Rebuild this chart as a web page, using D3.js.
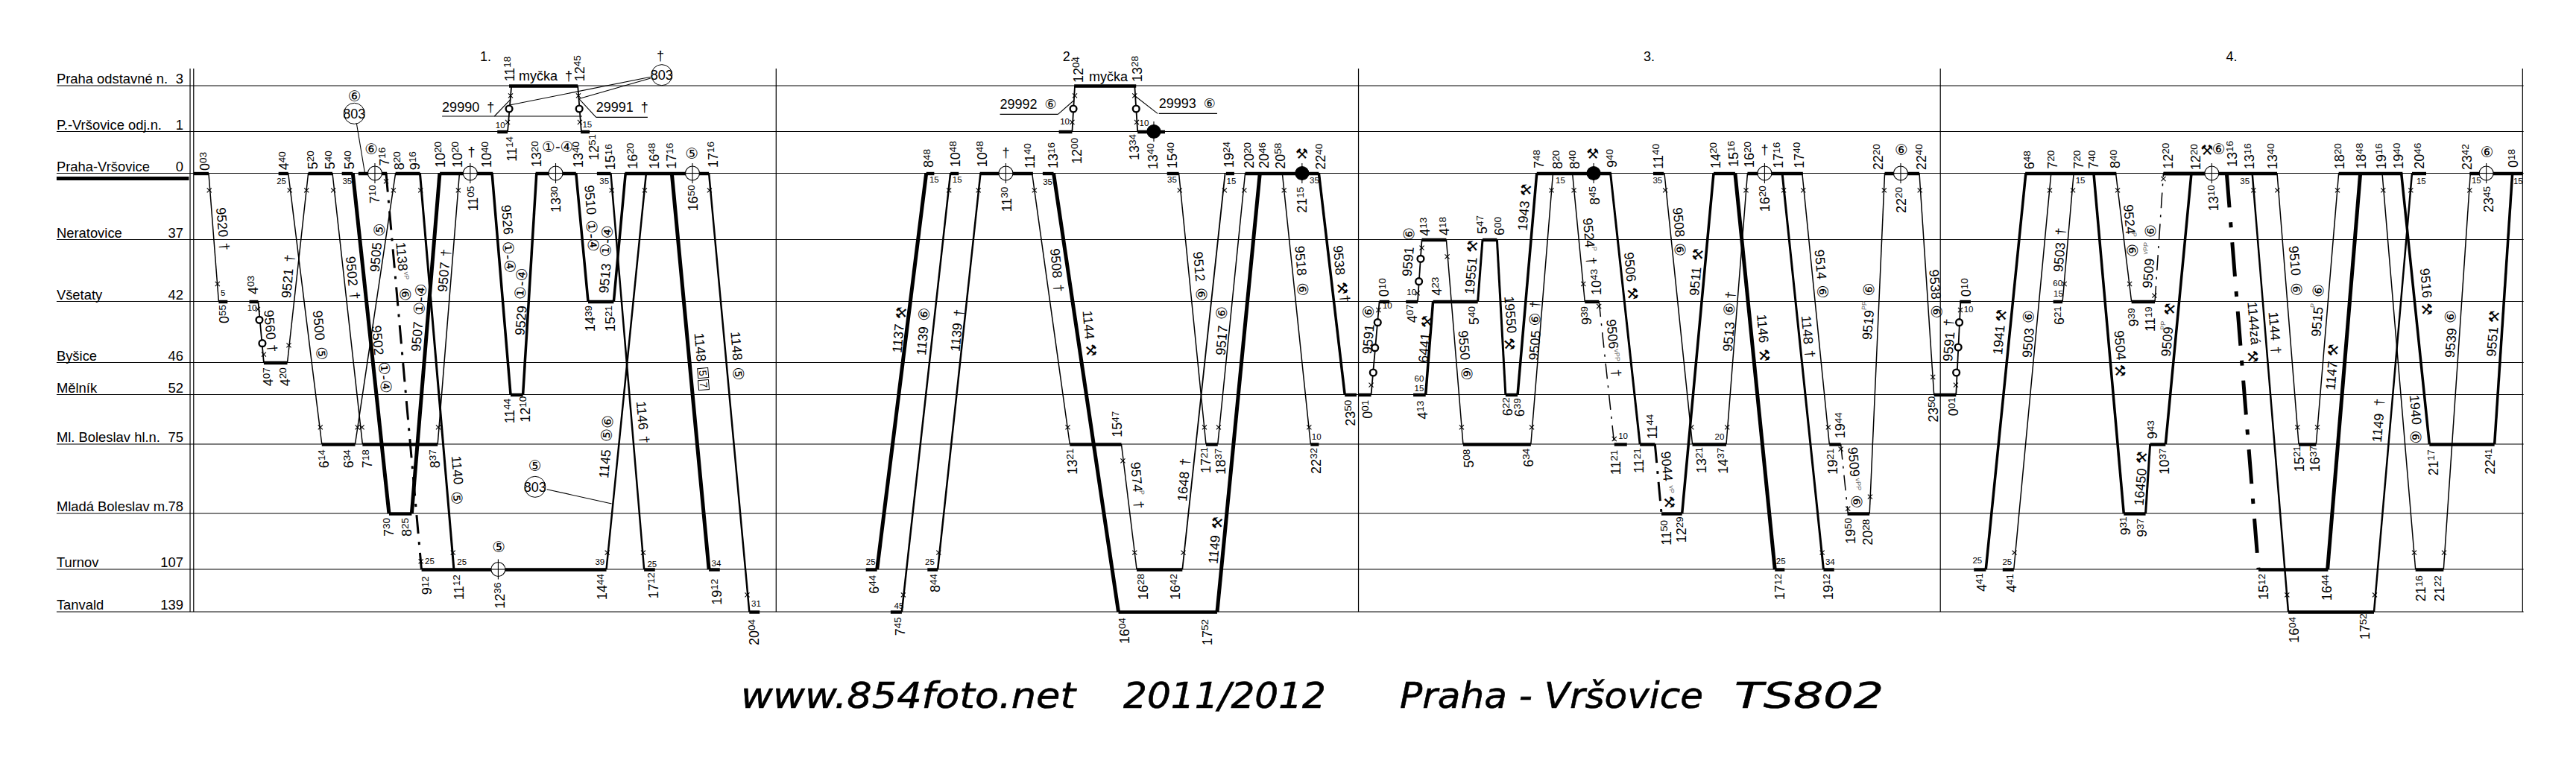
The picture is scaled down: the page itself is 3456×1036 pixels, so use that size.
<!DOCTYPE html>
<html><head><meta charset="utf-8">
<script src="https://cdn.jsdelivr.net/npm/d3@7/dist/d3.min.js"></script>
<style>html,body{margin:0;padding:0;background:#fff}svg{display:block}
text{font-family:"Liberation Sans","DejaVu Sans",sans-serif;fill:#000}</style></head><body>
<script>
// ---- stations (km, name) ----
const stationKeys=['O','V','P','N','S','B','M','L','D','T','A'];
const stationNames=['Praha odstavné n.','P.-Vršovice odj.n.','Praha-Vršovice','Neratovice','Všetaty','Byšice','Mělník','Ml. Boleslav hl.n.','Mladá Boleslav m.','Turnov','Tanvald'];
const stationKm=[3,1,0,37,42,46,52,75,78,107,139];
const stationRows=[115,176.5,232.5,321.5,404.5,486.5,529.5,596,689,764,821];
const dayLabels=[['B','u',130,108,'1.'],['C','u',590,108,'2.'],['D','u',1043,108,'3.'],['F','u',132,108,'4.']];
const titleParts=[['www.854foto.net',994,1443],['2011/2012',1507,1779],['Praha - Vršovice',1878,2285],['TS802',2327,2527]];
// sheet sections: start, width, read extent, upper and lower band origin
const sections=[['A',0,620,1568,40,440],['B',600,620,1568,40,460],['C',1200,620,1568,40,460],['D',1800,620,1568,40,460],['E',2400,560,1568,40,460],['F',2950,506,1518,40,460]];
const dividers=[['A',645],['A',657],['B',1116],['D',57],['E',569],['F',1303]];

// ---- train runs: section, from station, position, to station, position, class, dashed ----
const trainLines=[
['A','P',708,'S',742,1.5],['A','S',876,'B',895,1.8],['A','B',975,'P',1046,1.5],['A','P',978,'L',1092,1.5],['A','P',1128,'L',1230,1.5],
['A','P',1197,'D',1320,5],['A','P',1342,'L',1205,1.5],['A','L',1485,'P',1559,1.5],['A','P',1425,'T',1540,3],['A','D',1397,'P',1492,5],['A','P',1310,'T',1430,3,1],
['B','V',205,'O',218,1.8],['B','V',455,'O',443,1.8],['B','P',152,'M',215,3.5],['B','M',257,'P',303,3.5],['B','P',437,'S',478,3.5],['B','S',565,'P',605,3.5],
['B','P',555,'T',668,2.5],['B','T',540,'P',675,2.5],['B','P',762,'T',888,5],['B','P',888,'A',1025,2.5],
['C','T',-59,'P',108,5],['C','A',25,'P',190,2.5],['C','T',147,'P',292,2.5],['C','P',467,'L',595,1.5],['C','P',540,'A',760,5],['C','A',1095,'P',1240,5],
['C','L',770,'T',822,1.5],['C','T',977,'P',1122,1.8],['C','L',1097,'P',1190,1.5],['C','P',965,'L',1057,1.5],['C','P',1316,'L',1412,1.5],['C','P',1440,'M',1528,3.5],
['C','V',603,'O',612,1.8],['C','O',815,'V',825,1.8],
['D','M',100,'S',128,1.8],['D','S',258,'N',272,1.8],['D','N',355,'L',412,1.5],['D','M',285,'S',310,3.5],['D','S',462,'N',478,3],['D','N',527,'M',556,3],
['D','M',597,'P',662,3.5],['D','L',642,'P',717,1.5],['D','P',783,'S',825,1.5],['D','P',912,'L',1012,3],['D','S',873,'L',925,1.5,1],['D','L',1063,'D',1085,3,1],
['D','D',1155,'P',1262,3.5],['D','P',1095,'L',1190,1.5],['D','L',1305,'P',1377,1.5],['D','P',1335,'T',1470,5],
['E','P',-25,'T',130,3],['E','P',50,'L',152,1.5],['E','L',195,'D',222,1.5,1],['E','D',303,'P',360,1.5],['E','P',490,'M',545,1.5],['E','M',628,'S',645,1.8],
['E','T',845,'P',985,1.5],['E','T',740,'P',890,3.5],['E','S',1028,'P',1070,1.5],['E','P',1145,'D',1258,3.5],['E','P',1228,'S',1287,1.5],['E','S',1375,'P',1407,1.5,1],
['E','D',1340,'L',1357,3],['E','L',1415,'P',1512,3.5],
['F','P',112,'T',240,5,1],['F','T',518,'P',650,5],['F','L',472,'P',563,1.5],['F','P',215,'A',360,2.5],['F','P',315,'L',402,1.5],['F','A',705,'P',858,2.5],
['F','P',738,'T',872,1.5],['F','T',985,'P',1093,1.5],['F','P',815,'L',928,3.5],['F','L',1190,'P',1262,3.5]];

// ---- dwell bars at stations ----
const dwellBars=[
['A','P',657,708],['A','S',742,772],['A','S',846,876],['A','B',895,975],['A','P',945,978],['A','P',1046,1128],['A','P',1160,1197],['A','P',1216,1313],['A','L',1092,1205],['A','L',1230,1485],['A','D',1320,1397],['A','P',1342,1425],
['B','T',-87,540],['B','P',-25,155],['B','O',210,443],['B','V',170,205],['B','V',453,483],['B','P',300,437],['B','P',508,555],['B','P',603,888],['B','M',215,257],['B','S',478,565],['B','T',668,705],['B','T',888,925],['B','A',1025,1060],
['C','T',-97,-59],['C','A',-13,25],['C','P',108,135],['C','P',190,218],['C','P',290,470],['C','T',112,147],['C','L',595,770],['C','P',503,540],['C','A',760,1095],['C','T',822,977],['C','P',1125,1153],['C','L',1057,1097],['C','P',925,965],['C','P',1190,1440],['C','L',1412,1440],['C','M',1528,1568],['C','O',610,820],['C','V',558,603],['C','V',825,918],
['D','M',57,100],['D','S',128,162],['D','S',218,258],['D','N',272,355],['D','L',412,642],['D','S',310,462],['D','M',243,285],['D','N',478,527],['D','M',556,597],['D','P',662,915],['D','S',825,873],['D','L',1012,1063],['D','L',925,968],['D','D',1085,1155],['D','P',1057,1093],['D','L',1190,1305],['D','P',1262,1335],['D','P',1377,1565],['D','T',1470,1503],
['E','T',130,170],['E','L',152,195],['E','D',220,303],['E','P',360,490],['E','M',545,628],['E','S',642,683],['E','T',803,845],['E','T',695,740],['E','P',888,1230],['E','S',993,1028],['E','D',1258,1340],['E','S',1287,1375],['E','L',1357,1415],['E','P',1407,1568],
['F','P',-142,315],['F','T',240,520],['F','A',360,705],['F','L',402,472],['F','P',563,820],['F','T',872,985],['F','L',928,1190],['F','P',858,915],['F','P',1090,1305]];

// ---- times: section, band, position, text foot, hour, minute ----
const timeLabels=[
['A','u',697,567,'0','03'],['A','u',763,1182,'0','55'],['A','u',860,1065,'4','03'],['A','l',912,235,'4','07'],['A','l',968,235,'4','20'],['A','u',965,565,'4','40'],['A','u',1062,562,'5','20'],['A','u',1122,562,'5','40'],['A','u',1187,562,'5','40'],['A','u',1305,548,'7','16'],['A','u',1272,700,'7','10'],['A','u',1355,565,'8','20'],['A','u',1408,565,'9','16'],['A','u',1495,555,'10','20'],['A','l',1100,565,'6','14'],['A','l',1185,565,'6','34'],['A','l',1248,565,'7','18'],['A','l',1477,565,'8','37'],['A','l',1320,840,'7','30'],['A','l',1382,840,'8','25'],['A','l',1450,1075,'9','12'],
['B','u',35,555,'10','20'],['B','u',135,555,'10','40'],['B','u',88,730,'11','05'],['B','u',213,208,'11','18'],['B','u',450,208,'12','45'],['B','u',220,530,'11','14'],['B','u',500,525,'12','51'],['B','u',305,553,'13','20'],['B','u',445,555,'13','40'],['B','u',370,735,'13','30'],['B','u',555,565,'15','16'],['B','u',630,560,'16','20'],['B','u',703,560,'16','48'],['B','u',762,560,'17','16'],['B','u',836,730,'16','50'],['B','u',903,555,'17','16'],['B','u',487,1215,'14','39'],['B','u',555,1215,'15','21'],['B','l',212,325,'11','44'],['B','l',265,320,'12','10'],['B','l',40,1035,'11','12'],['B','l',180,1070,'12','36'],['B','l',527,1035,'14','44'],['B','l',700,1030,'17','12'],['B','l',915,1055,'19','12'],['B','l',1042,1218,'20','04'],['B','l',1450,1010,'6','44'],
['C','l',20,1180,'7','45'],['C','u',118,555,'8','48'],['C','u',207,553,'10','48'],['C','u',298,553,'10','48'],['C','u',382,733,'11','30'],['C','u',460,558,'11','40'],['C','u',540,558,'13','16'],['C','l',140,1005,'8','44'],['C','l',605,530,'13','21'],['C','l',757,380,'15','47'],['C','l',782,1212,'16','04'],['C','l',1062,1218,'17','52'],['C','l',845,1035,'16','28'],['C','l',955,1035,'16','42'],['C','u',1135,555,'19','24'],['C','l',1058,525,'17','21'],['C','l',1108,530,'18','37'],['C','u',945,558,'15','40'],['C','u',1205,558,'20','20'],['C','u',1255,558,'20','46'],['C','u',1310,560,'20','58'],['C','u',1385,737,'21','15'],['C','u',1448,563,'22','40'],['C','l',1432,528,'22','32'],['C','l',1548,335,'23','50'],['C','u',625,213,'12','04'],['C','u',825,210,'13','28'],['C','u',620,540,'12','00'],['C','u',815,525,'13','34'],['C','u',878,562,'13','40'],
['D','l',88,305,'0','01'],['D','u',145,1075,'0','10'],['D','u',240,1180,'4','07'],['D','u',285,830,'4','13'],['D','u',350,828,'4','18'],['D','l',433,503,'5','08'],['D','l',635,500,'6','34'],['D','u',325,1070,'4','23'],['D','u',450,1188,'5','40'],['D','l',275,308,'4','13'],['D','u',478,822,'5','47'],['D','u',537,828,'6','00'],['D','l',565,295,'6','22'],['D','l',605,298,'6','39'],['D','u',670,558,'7','48'],['D','u',735,560,'8','20'],['D','u',792,560,'8','40'],['D','u',860,705,'8','45'],['D','u',918,555,'9','40'],['D','u',865,1068,'10','43'],['D','u',832,1188,'9','39'],['D','l',1010,525,'11','21'],['D','l',1055,388,'11','44'],['D','l',932,532,'11','21'],['D','l',1102,815,'11','50'],['D','l',1155,805,'12','29'],['D','u',1075,560,'11','40'],['D','l',1222,525,'13','21'],['D','l',1295,527,'14','37'],['D','u',1270,558,'14','20'],['D','u',1330,552,'15','16'],['D','u',1385,555,'16','20'],['D','l',1488,1035,'17','12'],['D','u',1437,733,'16','20'],['D','u',1483,557,'17','16'],['D','u',1553,557,'17','40'],
['E','l',150,1035,'19','12'],['E','l',165,530,'19','21'],['E','l',195,385,'19','44'],['E','l',232,810,'19','50'],['E','l',298,815,'20','28'],['E','u',338,565,'22','20'],['E','u',423,738,'22','20'],['E','u',498,565,'22','40'],['E','l',545,320,'23','50'],['E','l',620,295,'0','01'],['E','u',668,1075,'0','10'],['E','l',838,1005,'4','41'],['E','l',725,1002,'4','41'],['E','u',905,562,'6','48'],['E','u',993,560,'7','20'],['E','u',1090,560,'7','20'],['E','u',1147,560,'7','40'],['E','u',1228,558,'8','40'],['E','u',1018,1188,'6','21'],['E','l',1265,775,'9','31'],['E','l',1328,782,'9','37'],['E','u',1297,1195,'9','39'],['E','u',1360,1215,'11','19'],['E','u',1425,560,'12','20'],['E','u',1530,565,'12','20'],['E','l',1368,388,'9','43'],['E','l',1413,530,'10','37'],
['F','u',60,730,'13','10'],['F','u',135,552,'13','16'],['F','u',205,562,'13','16'],['F','u',298,562,'13','40'],['F','l',262,1035,'15','12'],['F','l',518,1038,'16','44'],['F','l',385,1208,'16','04'],['F','l',670,1195,'17','52'],['F','l',405,520,'15','21'],['F','l',470,520,'16','37'],['F','u',568,562,'18','20'],['F','u',655,560,'18','48'],['F','u',735,562,'19','16'],['F','u',805,560,'19','40'],['F','l',895,1042,'21','16'],['F','l',970,1042,'21','22'],['F','l',945,535,'21','17'],['F','l',1175,530,'22','41'],['F','u',890,560,'20','46'],['F','u',1082,565,'23','42'],['F','u',1168,735,'23','45'],['F','u',1268,555,'0','18']];

// ---- small minute notes ----
const smallLabels=[
['A','u',757,1060,'5'],['A','u',855,1120,'10'],['A','u',955,610,'25'],['A','u',1178,610,'35'],['A','l',1458,940,'25'],
['B','u',180,385,'10'],['B','u',475,382,'15'],['B','u',533,610,'35'],['B','l',50,883,'25'],['B','l',518,882,'39'],['B','l',695,890,'25'],['B','l',913,888,'34'],['B','l',1048,1050,'31'],['B','l',1437,882,'25'],
['C','l',15,1060,'45'],['C','u',135,603,'15'],['C','u',213,603,'15'],['C','l',120,882,'25'],['C','u',520,612,'35'],['C','u',1143,610,'15'],['C','u',942,603,'35'],['C','u',1425,605,'35'],['C','l',1432,378,'10'],['C','u',578,370,'10'],['C','u',847,375,'10'],
['D','u',155,1110,'10'],['D','u',237,1055,'10'],['D','l',263,182,'15'],['D','l',263,145,'60'],['D','u',742,605,'15'],['D','l',955,375,'10'],['D','u',1072,605,'35'],['D','l',1282,378,'20'],['D','l',1490,880,'25'],
['E','l',155,882,'34'],['E','u',675,1125,'10'],['E','l',820,882,'25'],['E','l',708,875,'25'],['E','u',1095,607,'15'],['E','u',1010,1020,'60'],['E','u',1012,1063,'15'],
['F','u',185,610,'35'],['F','u',895,610,'15'],['F','u',1117,607,'15'],['F','u',1285,610,'15']];

// ---- train numbers along the runs ----
const trainLabels=[
['A','u',750,715,'9520','d'],['A','u',912,1128,'9560','d'],['A','u',1078,1130,'9500','d'],['A','u',1190,912,'9502','d'],['A','u',1278,1190,'9502','d'],['A','u',970,1080,'9521','u'],['A','u',1270,975,'9505','u'],['A','u',1360,855,'1138','d'],['A','l',1410,95,'9507','u'],['A','u',1500,1055,'9507','u'],['A','l',1548,515,'1140','d'],
['B','u',200,705,'9526','d'],['B','u',245,1230,'9529','u'],['B','u',482,625,'9510','d'],['B','u',530,1060,'9513','u'],['B','l',658,235,'1146','d'],['B','l',530,545,'1145','u'],['B','u',855,1220,'1148','d'],['B','u',978,1215,'1148','d'],['B','l',1525,40,'1137','u'],
['C','l',90,50,'1139','u'],['C','l',205,35,'1139','u'],['C','u',545,880,'9508','d'],['C','u',655,1130,'1144','d'],['C','l',818,480,'9574','d'],['C','l',975,638,'1648','u'],['C','l',1080,890,'1149','u'],['C','l',1105,50,'9517','u'],['C','u',1030,893,'9512','d'],['C','u',1375,870,'9518','d'],['C','u',1505,868,'9538','d'],
['D','u',85,1305,'9591','u'],['D','u',220,993,'9591','u'],['D','u',412,1210,'9550','d'],['D','l',275,80,'6441','u'],['D','u',432,1065,'19551','u'],['D','u',568,1072,'19550','d'],['D','u',612,808,'1943','u'],['D','l',650,70,'9505','u'],['D','u',835,757,'9524','d'],['D','u',975,895,'9506','d'],['D','u',915,1165,'9506','d'],['D','l',1100,437,'9044','d'],['D','u',1195,1070,'9511','u'],['D','u',1140,715,'9508','d'],['D','u',1308,1295,'9513','u'],['D','u',1425,1145,'1146','d'],
['E','u',65,1150,'1148','d'],['E','u',115,885,'9514','d'],['E','l',240,420,'9509','d'],['E','u',292,1248,'9519','u'],['E','u',545,965,'9538','d'],['E','l',595,75,'9591','u'],['E','l',783,48,'1941','u'],['E','l',893,60,'9503','u'],['E','u',1010,975,'9503','u'],['E','u',1240,1210,'9504','d'],['E','u',1275,703,'9524','d'],['E','u',1345,1040,'9509','u'],['E','l',1313,655,'16450','u'],['E','l',1415,55,'9509','u'],
['F','u',215,1095,'1144zá','d'],['F','u',300,1135,'1144','d'],['F','u',382,870,'9510','d'],['F','u',470,1235,'9515','u'],['F','l',528,190,'1147','u'],['F','l',715,400,'1149','u'],['F','l',868,210,'1940','d'],['F','l',1008,60,'9539','u'],['F','u',910,960,'9516','d'],['F','l',1175,55,'9551','u']];

// ---- symbols beside runs: section, band, position, height, glyph, direction (d/u/h) ----
const glyphLabels=[
['A','u',762,873,'†','d'],['A','l',925,82,'†','d'],['A','l',1092,103,'⑤','d'],['A','u',1205,1070,'†','d'],['A','l',1307,200,'①-④','d'],['A','u',982,920,'†','u'],['A','u',1287,805,'⑤','u'],['A','u',1375,1065,'⑥','d'],['A','u',1425,1085,'①-④','u'],['A','u',1512,898,'†','u'],['A','l',1550,685,'⑤','d'],['A','u',1203,265,'⑥','h'],['A','u',1260,478,'⑥','h'],
['B','u',82,490,'†','h'],['B','u',375,470,'①-④','h'],['B','u',210,915,'①-④','d'],['B','u',250,1022,'①-④','u'],['B','u',493,830,'①-④','d'],['B','u',540,850,'①-④','u'],['B','l',670,390,'†','d'],['B','l',542,345,'⑤⑥','u'],['B','l',988,125,'⑤','d'],['B','u',1540,1140,'⚒','u'],['B','u',830,498,'⑤','h'],['B','l',175,820,'⑤','h'],['B','l',298,495,'⑤','h'],['B','u',723,105,'†','h'],
['C','u',100,1145,'⑥','u'],['C','u',218,1140,'†','u'],['C','u',558,1040,'†','d'],['C','u',668,1290,'⚒','d'],['C','l',830,652,'†','d'],['C','l',985,480,'†','u'],['C','l',1095,725,'⚒','u'],['C','u',1110,1140,'⑥','u'],['C','u',1042,1065,'⑥','d'],['C','u',1385,1045,'⑥','d'],['C','u',1520,1040,'⚒','d'],['C','u',1530,1082,'†','d'],['C','u',378,495,'†','h'],['C','u',1382,497,'⚒','h'],
['D','u',90,1135,'⑥','u'],['D','u',228,822,'⑥','u'],['D','l',425,125,'⑥','d'],['D','u',288,1175,'⚒','u'],['D','u',443,872,'⚒','u'],['D','u',570,1265,'⚒','d'],['D','u',625,645,'⚒','u'],['D','u',655,1165,'⑥','u'],['D','u',655,1105,'†','u'],['D','u',848,930,'†','d'],['D','u',988,1062,'⚒','d'],['D','l',932,122,'†','d'],['D','l',1112,642,'⚒','d'],['D','u',1208,905,'⚒','u'],['D','u',1148,885,'⑥','d'],['D','u',1315,1125,'⑥','u'],['D','u',1318,1068,'†','u'],['D','l',1435,50,'⚒','d'],['D','u',852,497,'⚒','h'],['D','u',1435,483,'†','h'],
['E','l',80,45,'†','d'],['E','u',127,1055,'⑥','d'],['E','l',255,640,'⑥','d'],['E','u',300,1045,'⑥','u'],['E','u',555,1135,'⑥','d'],['E','u',600,1178,'†','u'],['E','u',797,1150,'⚒','u'],['E','u',900,1155,'⑥','u'],['E','u',1020,812,'†','u'],['E','l',1245,112,'⚒','d'],['E','u',1290,888,'⑥','d'],['E','u',1358,810,'⑥','u'],['E','l',1325,462,'⚒','u'],['E','u',1430,1125,'⚒','u'],['E','u',423,482,'⑥','h'],
['F','l',218,55,'⚒','d'],['F','l',312,30,'†','d'],['F','u',393,1045,'⑥','d'],['F','u',480,1050,'⑥','u'],['F','l',540,30,'⚒','u'],['F','l',725,240,'†','u'],['F','l',873,380,'⑥','d'],['F','u',1012,1155,'⑥','u'],['F','u',918,1125,'⚒','d'],['F','u',1188,1155,'⚒','u'],['F','u',32,482,'⚒','h'],['F','u',80,478,'⑥','h'],['F','u',1160,492,'⑥','h']];

// tiny category suffixes
const suffixLabels=[
['A','u',1380,990,'vP','d'],['C','l',840,603,'P','d'],['D','u',858,882,'P','d'],['D','l',935,50,'vPP','d'],['D','l',1120,590,'vP','d'],
['E','l',262,570,'vPP','d'],['E','u',283,1110,'PP','u'],['E','u',1298,825,'P','d'],['E','u',1340,880,'vPP','u'],['E','u',1405,1190,'PP','u'],['F','u',458,1110,'P','u']];
const boxedDigits=[['B','l',868,122,'5'],['B','l',870,170,'7']];

// ---- marks ----
const crossMarks=[
['A','u',710,646],['A','u',738,1023],['A','u',875,1125],['A','l',895,107],['A','l',980,70],['A','u',1040,646],['A','u',983,646],['A','l',1087,400],['A','u',1131,646],['A','l',1213,400],['A','l',1228,400],['A','u',1335,646],['A','l',1487,400],['A','u',1555,646],['A','u',1427,646],['A','l',1537,905],['A','u',1310,610],['A','l',1428,940],
['B','u',205,372],['B','u',215,265],['B','u',450,372],['B','u',445,265],['B','u',558,646],['B','l',665,845],['B','u',670,646],['B','l',543,845],['B','u',890,646],['B','l',1018,1015],
['C','l',30,1015],['C','u',185,646],['C','l',150,845],['C','u',285,646],['C','u',475,646],['C','l',588,340],['C','l',775,475],['C','l',815,845],['C','l',980,845],['C','u',1120,646],['C','l',1100,340],['C','u',1187,646],['C','u',968,646],['C','l',1052,340],['C','u',1322,646],['C','l',1407,340],['C','u',603,372],['C','u',612,265],['C','u',815,265],['C','u',822,372],
['D','l',100,170],['D','u',125,1128],['D','u',257,1060],['D','u',272,878],['D','u',358,913],['D','l',407,340],['D','l',645,340],['D','u',712,646],['D','u',788,646],['D','u',820,1023],['D','u',873,1113],['D','l',925,387],['D','u',1098,646],['D','l',1187,340],['D','l',1308,340],['D','u',1372,646],['D','u',1500,646],
['E','l',125,845],['E','u',54,646],['E','l',148,340],['E','l',195,428],['E','l',222,668],['E','l',305,620],['E','u',358,646],['E','u',492,646],['E','l',541,138],['E','l',627,170],['E','u',644,1128],['E','l',847,845],['E','u',980,646],['E','u',1035,1023],['E','u',1067,646],['E','u',1235,646],['E','u',1280,1023],['E','u',1373,1070],['E','u',1407,600],
['F','l',477,340],['F','u',558,646],['F','u',220,646],['F','l',355,1015],['F','u',316,646],['F','l',397,340],['F','l',708,1015],['F','u',853,646],['F','u',742,646],['F','l',867,845],['F','l',987,845],['F','u',1090,646]];
const ringMarks=[
['A','u',880,1168],['A','l',890,62],['B','u',210,318],['B','u',448,318],['C','u',607,318],['C','u',820,318],
['D','u',122,1178],['D','u',113,1280],['D','l',107,120],['D','u',262,1013],['D','u',268,922],['E','u',640,1178],['E','u',636,1278],['E','l',629,120]];
const stopSymbols=[
['A','P',1272,0],['B','P',78,0],['B','P',368,0],['B','P',832,0],['B','T',173,0],['C','P',378,0],['C','V',880,1],['C','P',1383,1],
['D','P',855,1],['D','P',1435,0],['E','P',420,0],['F','P',52,0],['F','P',1157,0]];
const locoBubbles=[['A','u',1202,337],['B','u',728,182],['B','l',298,580]];
const noteTexts=[
['A','u',1500,330,'29990  †'],['B','u',243,205,'myčka  †'],['B','u',505,330,'29991  †'],['C','u',660,208,'myčka'],['C','u',358,318,'29992  ⑥'],['C','u',897,315,'29993  ⑥']];
const leaderLines=[
['A','u',1210,378,'u',1238,577],['B','u',690,190,'u',215,302],['B','u',690,195,'u',445,278],['B','l',338,590,'l',558,648],
['A','u',1500,348,'u',1975,348],['B','u',160,348,'u',215,280],['B','u',505,352,'u',680,352],['B','u',505,352,'u',445,275],
['C','u',358,340,'u',555,340],['C','u',555,340,'u',608,285],['C','u',897,337,'u',1095,337],['C','u',893,337,'u',815,265]];

// ---- scales ----
const W=3456,H=1036;
const yStation=d3.scaleOrdinal(stationKeys,stationRows);
const xOf={},yOf={};
sections.forEach(([k,x0,w,read,top,low])=>{
  xOf[k]=d3.scaleLinear([0,read],[x0,x0+w]);
  yOf[k]={u:d3.scaleLinear([0,1320],[top,top+440]),l:d3.scaleLinear([0,1320],[low,low+440])};
});
const Y=(p,r,v)=>yOf[p][r](v);
const tilt={d:85,u:-85,h:0};
const svg=d3.select('body').append('svg').attr('width',W).attr('height',H).attr('viewBox',[0,0,W,H]);
const nameX=xOf.A(192),kmX=xOf.A(622),rightX=xOf.F(1307),topY=yOf.A.u(156);

// grid
svg.append('g').selectAll('line').data(stationKeys).join('line')
 .attr('x1',nameX).attr('x2',rightX).attr('y1',d=>yStation(d)).attr('y2',d=>yStation(d)).attr('stroke','#000').attr('stroke-width',1.2);
svg.append('g').selectAll('line').data(dividers).join('line')
 .attr('x1',d=>xOf[d[0]](d[1])).attr('x2',d=>xOf[d[0]](d[1])).attr('y1',topY).attr('y2',yStation('A')).attr('stroke','#000').attr('stroke-width',1.2);
svg.append('rect').attr('x',nameX).attr('width',xOf.A(641)-nameX).attr('y',yStation('P')+4.5).attr('height',5).attr('fill','#000');
const st=svg.append('g').style('font-size','18.4px');
st.selectAll('text.n').data(stationNames).join('text').attr('class','n').attr('x',nameX).attr('y',(d,i)=>stationRows[i]-3).text(d=>d);
st.selectAll('text.k').data(stationKm).join('text').attr('class','k').attr('x',kmX).attr('y',(d,i)=>stationRows[i]-3).attr('text-anchor','end').text(d=>d);
svg.append('g').selectAll('text').data(dayLabels).join('text').attr('x',d=>xOf[d[0]](d[2])).attr('y',d=>Y(d[0],d[1],d[3])+6).attr('text-anchor','middle').style('font-size','18px').text(d=>d[4]);

// leaders
svg.append('g').selectAll('line').data(leaderLines).join('line')
 .attr('x1',d=>xOf[d[0]](d[2])).attr('y1',d=>Y(d[0],d[1],d[3])).attr('x2',d=>xOf[d[0]](d[5])).attr('y2',d=>Y(d[0],d[4],d[6])).attr('stroke','#000').attr('stroke-width',1.1);

// runs
const dashFor=w=>{const k=w>=4?1:(w>=2.5?.55:.45);return [46*k,20*k,7*k,20*k].join(' ')};
svg.append('g').selectAll('line').data(trainLines).join('line')
 .attr('x1',d=>xOf[d[0]](d[2])).attr('y1',d=>yStation(d[1])).attr('x2',d=>xOf[d[0]](d[4])).attr('y2',d=>yStation(d[3]))
 .attr('stroke','#000').attr('stroke-width',d=>d[5]).attr('stroke-dasharray',d=>d[6]?dashFor(d[5]):null);
svg.append('g').selectAll('line').data(dwellBars).join('line')
 .attr('x1',d=>xOf[d[0]](d[2])).attr('x2',d=>xOf[d[0]](d[3])).attr('y1',d=>yStation(d[1])+.5).attr('y2',d=>yStation(d[1])+.5).attr('stroke','#000').attr('stroke-width',4.4);

// cross marks and rings
const crossPath=d3.symbol(d3.symbolTimes,26)();
svg.append('g').selectAll('path').data(crossMarks).join('path').attr('d',crossPath)
 .attr('transform',d=>`translate(${xOf[d[0]](d[2])},${Y(d[0],d[1],d[3])})`).attr('fill','none').attr('stroke','#000').attr('stroke-width',1.1);
svg.append('g').selectAll('circle').data(ringMarks).join('circle').attr('cx',d=>xOf[d[0]](d[2])).attr('cy',d=>Y(d[0],d[1],d[3])).attr('r',4.4)
 .attr('fill','#fff').attr('stroke','#000').attr('stroke-width',2.4);

// stop symbols
const sy=svg.append('g').selectAll('g').data(stopSymbols).join('g').attr('transform',d=>`translate(${xOf[d[0]](d[2])},${yStation(d[1])})`);
sy.append('circle').attr('r',d=>d[3]?9:9.5).attr('fill',d=>d[3]?'#000':'#fff').attr('stroke','#000').attr('stroke-width',1.1);
sy.append('line').attr('y1',-13.5).attr('y2',13.5).attr('stroke','#000').attr('stroke-width',1.1);
sy.filter(d=>!d[3]).append('line').attr('x1',-9.5).attr('x2',9.5).attr('stroke','#000').attr('stroke-width',1.1);

// loco bubbles
const lb=svg.append('g').selectAll('g').data(locoBubbles).join('g').attr('transform',d=>`translate(${xOf[d[0]](d[2])},${Y(d[0],d[1],d[3])})`);
lb.append('circle').attr('r',14).attr('fill','#fff').attr('stroke','#000').attr('stroke-width',1);
lb.append('text').attr('text-anchor','middle').attr('dy','.36em').style('font-size','18px').text('803');

// times
const tl=svg.append('g').selectAll('text').data(timeLabels).join('text')
 .attr('transform',d=>`translate(${xOf[d[0]](d[2])},${Y(d[0],d[1],d[3])}) rotate(-90)`).attr('dy','.36em');
tl.append('tspan').style('font-size','18px').text(d=>d[4]);
tl.append('tspan').style('font-size','13.5px').attr('dy',-4.5).text(d=>d[5]);

// small notes
svg.append('g').selectAll('text').data(smallLabels).join('text').attr('x',d=>xOf[d[0]](d[2])).attr('y',d=>Y(d[0],d[1],d[3])).attr('text-anchor','middle').attr('dy','.36em').style('font-size','11.5px').text(d=>d[4]);

// train numbers
svg.append('g').selectAll('text').data(trainLabels).join('text')
 .attr('transform',d=>`translate(${xOf[d[0]](d[2])},${Y(d[0],d[1],d[3])}) rotate(${tilt[d[5]]})`).attr('dy','.36em').style('font-size','18px').text(d=>d[4]);
svg.append('g').selectAll('text').data(glyphLabels).join('text')
 .attr('transform',d=>`translate(${xOf[d[0]](d[2])},${Y(d[0],d[1],d[3])}) rotate(${tilt[d[5]]})`).attr('text-anchor','middle').attr('dy','.36em')
 .style('font-size',d=>d[4]==='⚒'?'19px':(d[4]==='†'?'18px':'20px')).text(d=>d[4]);
svg.append('g').selectAll('text').data(suffixLabels).join('text')
 .attr('transform',d=>`translate(${xOf[d[0]](d[2])},${Y(d[0],d[1],d[3])}) rotate(${tilt[d[5]]})`).attr('text-anchor','middle').attr('dy','.36em')
 .style('font-size','9px').style('fill','#666').text(d=>d[4]);
const bx=svg.append('g').selectAll('g').data(boxedDigits).join('g').attr('transform',d=>`translate(${xOf[d[0]](d[2])},${Y(d[0],d[1],d[3])}) rotate(85)`);
bx.append('rect').attr('x',-6.5).attr('y',-7).attr('width',13).attr('height',14).attr('fill','#fff').attr('stroke','#000').attr('stroke-width',1);
bx.append('text').attr('text-anchor','middle').attr('dy','.36em').style('font-size','14px').text(d=>d[4]);

// horizontal notes
svg.append('g').selectAll('text').data(noteTexts).join('text').attr('x',d=>xOf[d[0]](d[2])).attr('y',d=>Y(d[0],d[1],d[3])).style('font-size','18px').style('white-space','pre').text(d=>d[4]);

// title
svg.append('g').selectAll('text').data(titleParts).join('text').attr('x',d=>d[1]).attr('y',950).attr('textLength',d=>d[2]-d[1]).attr('lengthAdjust','spacingAndGlyphs')
 .style('font-family','"DejaVu Sans",sans-serif').style('font-style','italic').style('font-size','48px').style('stroke','#000').style('stroke-width','.6px').text(d=>d[0]);
</script></body></html>
